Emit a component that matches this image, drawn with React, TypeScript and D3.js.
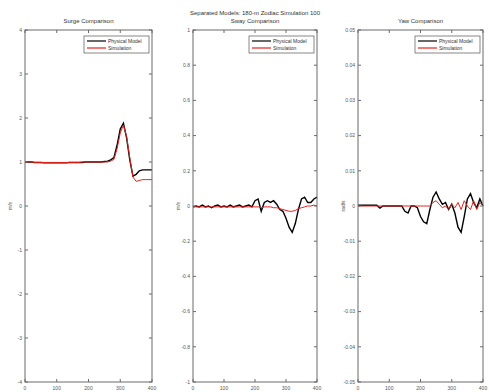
import React from 'react';
import * as d3 from 'd3';

// sample times (s)
const time = d3.range(0, 401, 10);

// surge
const surgeModel = [1.0, 1.0, 1.0, 0.99, 0.99, 0.99, 0.98, 0.98, 0.98, 0.98, 0.98, 0.98, 0.98, 0.98, 0.99, 0.99, 0.99, 0.99, 0.99, 1.0, 1.0, 1.0, 1.0, 1.0, 1.0, 1.01, 1.02, 1.05, 1.1, 1.38, 1.75, 1.88, 1.55, 1.05, 0.68, 0.72, 0.8, 0.82, 0.82, 0.82, 0.82];
const surgeSim = [1.0, 1.0, 1.0, 0.99, 0.99, 0.99, 0.99, 0.99, 0.99, 0.99, 0.99, 0.99, 0.99, 0.99, 0.99, 0.99, 0.99, 0.99, 1.0, 1.0, 1.0, 1.0, 1.0, 1.0, 1.0, 1.0, 1.0, 1.02, 1.06, 1.3, 1.66, 1.84, 1.58, 1.1, 0.66, 0.56, 0.58, 0.6, 0.6, 0.6, 0.6];

// sway
const swayModel = [-0.005, 0.0, -0.005, 0.005, -0.005, 0.0, -0.01, 0.0, 0.005, -0.005, 0.0, -0.005, 0.005, -0.005, 0.0, 0.005, -0.005, 0.0, 0.005, -0.005, 0.03, 0.04, -0.03, 0.02, 0.03, 0.02, 0.03, 0.01, -0.02, -0.03, -0.07, -0.12, -0.15, -0.1, -0.02, 0.04, 0.05, 0.02, 0.02, 0.04, 0.05];
const swaySim = [-0.005, -0.005, -0.005, -0.005, -0.005, -0.005, -0.005, -0.005, -0.005, -0.005, -0.005, -0.005, -0.005, -0.005, -0.005, -0.005, -0.005, -0.005, -0.005, -0.005, -0.005, -0.005, -0.01, -0.005, -0.005, -0.005, -0.01, -0.01, -0.015, -0.02, -0.025, -0.03, -0.03, -0.025, -0.015, -0.01, -0.005, 0.0, 0.0, 0.005, 0.0];

// yaw
const yawModel = [0.0002, 0.0002, 0.0002, 0.0002, 0.0002, 0.0002, 0.0002, -0.0006, 0.0, 0.0, 0.0, 0.0, 0.0, 0.0, 0.0, -0.0015, -0.002, 0.0, 0.0, -0.0005, -0.003, -0.0045, -0.005, -0.001, 0.0025, 0.004, 0.002, 0.0005, 0.001, -0.001, 0.0005, -0.002, -0.006, -0.0075, -0.003, 0.002, 0.0035, 0.001, -0.0005, 0.002, 0.0];
const yawSim = [0.0, 0.0, 0.0, 0.0, 0.0, 0.0, 0.0, 0.0, 0.0, 0.0, 0.0, 0.0, 0.0, 0.0, 0.0, 0.0, 0.0, 0.0, 0.0, 0.0, 0.0, 0.0, 0.0, 0.0, 0.001, 0.0015, 0.0005, -0.0005, 0.0, -0.001, 0.0005, -0.0005, 0.001, -0.001, 0.0015, 0.0, -0.001, 0.0015, -0.001, 0.001, 0.0];

const xTicks = [0, 100, 200, 300, 400];
const surgeTicks = [-4, -3, -2, -1, 0, 1, 2, 3, 4];
const swayTicks = [-1, -0.8, -0.6, -0.4, -0.2, 0, 0.2, 0.4, 0.6, 0.8, 1];
const yawTicks = [-0.05, -0.04, -0.03, -0.02, -0.01, 0, 0.01, 0.02, 0.03, 0.04, 0.05];

const legendNames = ['Physical Model', 'Simulation'];
const lineColors = ['#000000', '#e8201a'];

const W = 489;
const H = 392;
const top = 30;
const bottom = 382;
const font = 'Liberation Sans, Arial, sans-serif';
const axisColor = '#6a6a6a';

type PanelProps = {
  x0: number;
  x1: number;
  title: string[];
  ylabel: string;
  yTicks: number[];
  model: number[];
  sim: number[];
};

const Panel = ({ x0, x1, title, ylabel, yTicks, model, sim }: PanelProps) => {
  const x = d3.scaleLinear().domain([0, 400]).range([x0, x1]);
  const y = d3.scaleLinear().domain(d3.extent(yTicks) as [number, number]).range([bottom, top]);
  const line = d3
    .line<number>()
    .x((d, i) => x(time[i]))
    .y((d) => y(d));

  const cx = (x0 + x1) / 2;
  const fmt = (v: number) => String(+v.toFixed(4));
  const lx = x1 - 68;

  return (
    <g>
      {/* lines */}
      <path d={line(model) || ''} fill="none" stroke={lineColors[0]} strokeWidth={1.4} />
      <path d={line(sim) || ''} fill="none" stroke={lineColors[1]} strokeWidth={1} />

      {/* box */}
      <rect x={x0} y={top} width={x1 - x0} height={bottom - top} fill="none" stroke={axisColor} strokeWidth={1} />

      {/* y ticks */}
      {yTicks.map((t) => (
        <g key={'y' + t}>
          <line x1={x0} x2={x0 + 3} y1={y(t)} y2={y(t)} stroke={axisColor} />
          <line x1={x1} x2={x1 - 3} y1={y(t)} y2={y(t)} stroke={axisColor} />
          <text x={x0 - 3} y={y(t)} dy="0.35em" textAnchor="end" fontSize={5} fontFamily={font} fill="#555">
            {fmt(t)}
          </text>
        </g>
      ))}

      {/* x ticks */}
      {xTicks.map((t) => (
        <g key={'x' + t}>
          <line x1={x(t)} x2={x(t)} y1={bottom} y2={bottom - 3} stroke={axisColor} />
          <line x1={x(t)} x2={x(t)} y1={top} y2={top + 3} stroke={axisColor} />
          <text x={x(t)} y={bottom + 8} textAnchor="middle" fontSize={5} fontFamily={font} fill="#555">
            {t}
          </text>
        </g>
      ))}

      {/* title */}
      {title.map((s, i) => (
        <text
          key={s}
          x={cx}
          y={top - 7 - (title.length - 1 - i) * 8}
          textAnchor="middle"
          fontSize={6}
          fontFamily={font}
          fill="#333"
        >
          {s}
        </text>
      ))}

      {/* y label */}
      <text
        transform={`translate(${x0 - 13},206) rotate(-90)`}
        textAnchor="middle"
        fontSize={5}
        fontFamily={font}
        fill="#555"
      >
        {ylabel}
      </text>

      {/* legend */}
      <rect x={lx} y={36} width={65} height={17} fill="#fff" stroke={axisColor} strokeWidth={0.8} />
      {legendNames.map((n, i) => (
        <g key={n}>
          <line x1={lx + 3} x2={lx + 22} y1={41 + i * 7} y2={41 + i * 7} stroke={lineColors[i]} strokeWidth={1.2} />
          <text x={lx + 24} y={41 + i * 7} dy="0.35em" fontSize={5} fontFamily={font} fill="#333">
            {n}
          </text>
        </g>
      ))}
    </g>
  );
};

export default function App() {
  return (
    <svg
      width={W}
      height={H}
      style={{ position: 'absolute', left: 0, top: 0, background: '#fff' }}
    >
      <rect width={W} height={H} fill="#fff" />
      <Panel x0={25} x1={152} title={['Surge Comparison']} ylabel="m/s" yTicks={surgeTicks} model={surgeModel} sim={surgeSim} />
      <Panel
        x0={193}
        x1={317}
        title={['Separated Models: 180-m Zodiac Simulation 100', 'Sway Comparison']}
        ylabel="m/s"
        yTicks={swayTicks}
        model={swayModel}
        sim={swaySim}
      />
      <Panel x0={358} x1={483} title={['Yaw Comparison']} ylabel="rad/s" yTicks={yawTicks} model={yawModel} sim={yawSim} />
    </svg>
  );
}
